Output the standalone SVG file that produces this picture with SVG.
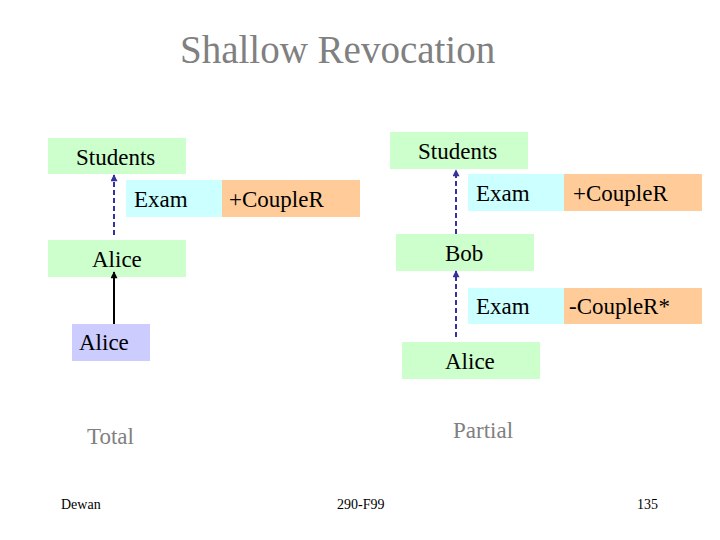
<svg xmlns="http://www.w3.org/2000/svg" width="720" height="540" viewBox="0 0 720 540">
<style>
text{font-family:"Liberation Serif","Times New Roman","DejaVu Serif",serif}
.t{font-size:23px;fill:#000}
.g{fill:#ccffcc}.c{fill:#ccffff}.o{fill:#ffcc99}.p{fill:#ccccff}
.title{font-size:39px;fill:#808080}
.lab{font-size:23px;fill:#808080}
.foot{font-size:14px;fill:#000}
.dash{stroke:#333399;stroke-width:2;stroke-dasharray:5,3;fill:none}
.solid{stroke:#000;stroke-width:2;fill:none}
</style>
<defs>
<marker id="ab" viewBox="0 0 10 10" refX="9" refY="5" markerUnits="userSpaceOnUse" markerWidth="8" markerHeight="7" orient="auto"><path d="M0,0L10,5L0,10z" fill="#333399"/></marker>
<marker id="ak" viewBox="0 0 10 10" refX="9" refY="5" markerUnits="userSpaceOnUse" markerWidth="8" markerHeight="7" orient="auto"><path d="M0,0L10,5L0,10z" fill="#000"/></marker>
</defs>
<rect width="720" height="540" fill="#fff"/>
<text class="title" x="180" y="63">Shallow Revocation</text>

<g id="l-students"><rect class="g" x="48" y="138" width="138" height="36"/><text class="t" x="76" y="165">Students</text></g>
<g id="l-exam"><rect class="c" x="126" y="180" width="96" height="37"/><text class="t" x="134" y="207">Exam</text></g>
<g id="l-right"><rect class="o" x="222" y="180" width="138" height="37"/><text class="t" x="229" y="207">+CoupleR</text></g>
<g id="l-alice"><rect class="g" x="48" y="240" width="138" height="37"/><text class="t" x="92" y="267">Alice</text></g>
<g id="l-alice2"><rect class="p" x="72" y="324" width="78" height="37"/><text class="t" x="79" y="350">Alice</text></g>

<g id="r-students"><rect class="g" x="390" y="132" width="138" height="37"/><text class="t" x="418" y="159">Students</text></g>
<g id="r-exam1"><rect class="c" x="468" y="174" width="96" height="37"/><text class="t" x="476" y="201">Exam</text></g>
<g id="r-right1"><rect class="o" x="564" y="174" width="138" height="37"/><text class="t" x="573" y="201">+CoupleR</text></g>
<g id="r-bob"><rect class="g" x="396" y="234" width="138" height="37"/><text class="t" x="445" y="261">Bob</text></g>
<g id="r-exam2"><rect class="c" x="468" y="288" width="96" height="36"/><text class="t" x="476" y="314">Exam</text></g>
<g id="r-right2"><rect class="o" x="564" y="288" width="138" height="36"/><text class="t" x="569" y="314">-CoupleR*</text></g>
<g id="r-alice"><rect class="g" x="402" y="342" width="138" height="37"/><text class="t" x="445" y="369">Alice</text></g>

<g id="connectors">
<line class="dash" x1="114" y1="235" x2="114" y2="175" marker-end="url(#ab)"/>
<line class="solid" x1="114" y1="324" x2="114" y2="272" marker-end="url(#ak)"/>
<line class="dash" x1="456" y1="234" x2="456" y2="170" marker-end="url(#ab)"/>
<line class="dash" x1="456" y1="337" x2="456" y2="271" marker-end="url(#ab)"/>
</g>

<text class="lab" x="87" y="444">Total</text>
<text class="lab" x="453" y="438">Partial</text>
<text class="foot" x="61" y="509">Dewan</text>
<text class="foot" x="337" y="509">290-F99</text>
<text class="foot" x="637" y="509">135</text>
</svg>
